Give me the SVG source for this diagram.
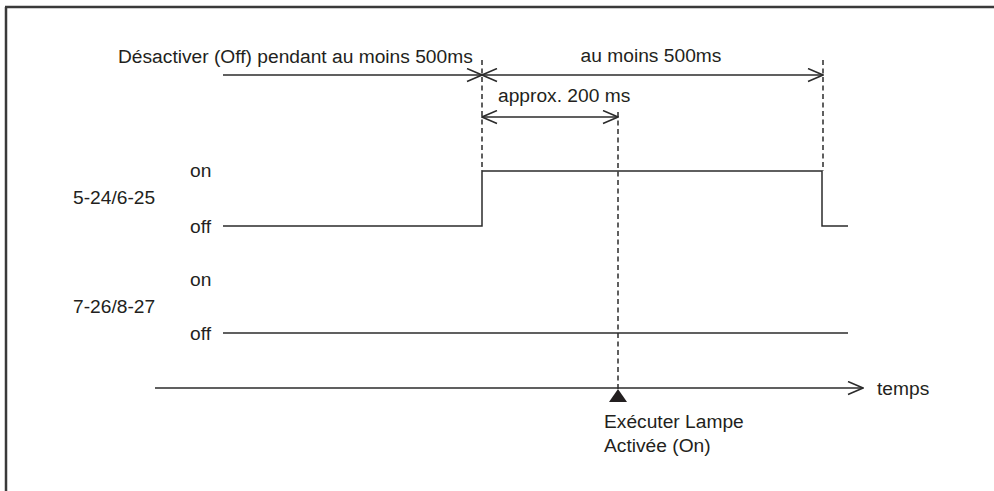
<svg xmlns="http://www.w3.org/2000/svg" width="994" height="491" viewBox="0 0 994 491">
<style>
text{font-family:"Liberation Sans",Arial,sans-serif;font-size:19.2px;fill:#231f20}
.ln{stroke:#2b2b2b;stroke-width:1.5;fill:none}
.ds{stroke:#2b2b2b;stroke-width:1.5;fill:none;stroke-dasharray:5 3.5}
</style>
<defs>
<marker id="ah" viewBox="0 0 17 15" refX="16" refY="7.5" markerWidth="17" markerHeight="15" markerUnits="userSpaceOnUse" orient="auto-start-reverse">
<path d="M1,1 L16,7.5 L1,14" fill="none" stroke="#2b2b2b" stroke-width="1.5"/>
</marker>
</defs>
<rect width="994" height="491" fill="#fff"/>
<g id="frame">
<path d="M5,7 H994 M6,7 V491" stroke="#3a3a3a" stroke-width="2.5" fill="none"/>
</g>
<g id="connectors">
<line class="ds" x1="482" y1="60" x2="482" y2="171"/>
<line class="ds" x1="823" y1="60" x2="823" y2="171"/>
<line class="ds" x1="618" y1="112" x2="618" y2="390"/>
<line class="ln" x1="223" y1="75" x2="482" y2="75" marker-end="url(#ah)"/>
<line class="ln" x1="482" y1="75" x2="823" y2="75" marker-start="url(#ah)" marker-end="url(#ah)"/>
<line class="ln" x1="482" y1="117" x2="618" y2="117" marker-start="url(#ah)" marker-end="url(#ah)"/>
<line class="ln" x1="155" y1="388" x2="863" y2="388" marker-end="url(#ah)"/>
</g>
<g id="signal1">
<polyline class="ln" points="223,226 482,226 482,171 822,171 822,226 848,226"/>
</g>
<g id="signal2">
<line class="ln" x1="223" y1="333" x2="848" y2="333"/>
</g>
<g id="marker">
<polygon points="618,389 609,402 627,402" fill="#231f20"/>
</g>
<g id="labels">
<text x="118" y="63">Désactiver (Off) pendant au moins 500ms</text>
<text x="651" y="62" text-anchor="middle">au moins 500ms</text>
<text x="498" y="102">approx. 200 ms</text>
<text x="190" y="177">on</text>
<text x="73" y="204">5-24/6-25</text>
<text x="190" y="233">off</text>
<text x="190" y="286">on</text>
<text x="73" y="313">7-26/8-27</text>
<text x="190" y="340">off</text>
<text x="877" y="395">temps</text>
<text x="604" y="428">Exécuter Lampe</text>
<text x="604" y="452">Activée (On)</text>
</g>
</svg>
